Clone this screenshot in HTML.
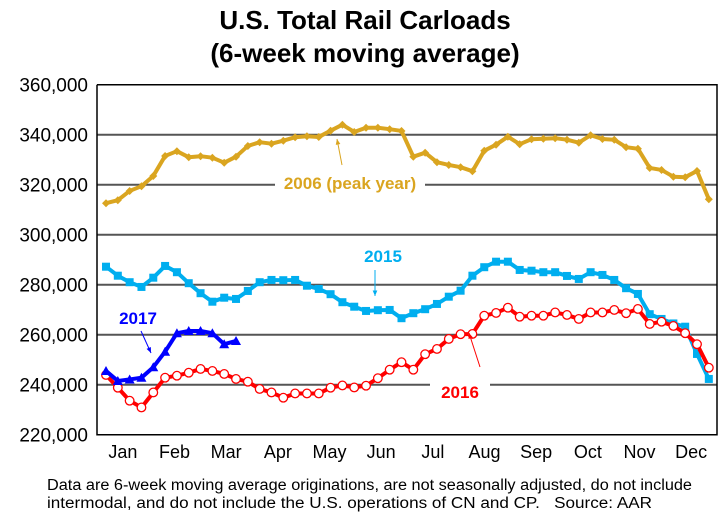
<!DOCTYPE html>
<html><head><meta charset="utf-8">
<style>
body{margin:0;background:#fff;}
svg{display:block;font-family:"Liberation Sans",Arial,sans-serif;}
</style></head><body>
<svg id="chart" width="725" height="516" viewBox="0 0 725 516">
<text x="365" y="29" text-anchor="middle" font-size="26" font-weight="bold">U.S. Total Rail Carloads</text>
<text x="365" y="62" text-anchor="middle" font-size="26" font-weight="bold">(6-week moving average)</text>
<g id="grid"></g>
<g id="axes"></g>
<g id="series"></g>
<g id="notes"></g>
<text x="47" y="490" font-size="15.5" textLength="645" lengthAdjust="spacingAndGlyphs">Data are 6-week moving average originations, are not seasonally adjusted, do not include</text>
<text x="47" y="508" font-size="15.5" textLength="605" lengthAdjust="spacingAndGlyphs">intermodal, and do not include the U.S. operations of CN and CP.&#160;&#160;&#160;Source: AAR</text>
</svg>
<script>
const months=["Jan","Feb","Mar","Apr","May","Jun","Jul","Aug","Sep","Oct","Nov","Dec"];
const yTicks=[220000,240000,260000,280000,300000,320000,340000,360000];
const s2006=[312.6,313.8,317.5,319.4,323.5,331.5,333.4,331,331.4,330.8,328.8,331.2,335.5,337,336.4,337.6,339,339.4,339.1,341.6,344,341.1,342.8,342.8,342.2,341.5,331.2,332.8,329,327.9,327,325.4,333.6,336,339.2,336.2,338.2,338.4,338.6,338,336.8,339.8,338.3,338,335,334.4,326.7,325.9,323.2,323,325.5,314.2];
const s2015=[287.2,283.6,281,279.1,282.8,287.5,285,280.6,276.6,273.2,274.8,274.3,277.5,281,281.9,281.8,281.9,279.6,278.3,276.2,273,271.2,269.5,269.8,269.9,266.6,268.6,270.2,272.3,275.2,277.6,283.6,287,289.2,289.2,285.9,285.6,285,285,283.5,282.3,285,283.9,281.9,278.6,276.3,268.2,266.3,264.5,263.2,252.3,242.3];
const s2016=[243.9,238.8,233.6,230.9,236.9,242.8,243.6,244.8,246.3,245.5,244.3,242.3,241.2,238.3,236.9,234.8,236.5,236.5,236.5,238.8,239.7,238.9,239.6,242.6,246,249,246,252.2,254.3,258.3,260.2,260.3,267.6,268.7,270.8,267.2,267.6,267.6,268.9,267.9,266.3,268.9,268.9,269.9,268.6,270.3,264.3,265.2,263.5,260.6,256.2,246.8];
const s2017=[245.5,241.5,242.1,242.8,247,253.2,260.6,261.5,261.5,260.6,256.2,257.5];
const NS="http://www.w3.org/2000/svg";
const L=97,R=717,T=84.7,B=434.7;
function yS(v){return T+(360000-v)/140000*(B-T);}
function xS(i){return 106+i*11.82;}
function mk(tag,at,parent){const e=document.createElementNS(NS,tag);for(const k in at)e.setAttribute(k,at[k]);parent.appendChild(e);return e;}
const grid=document.getElementById('grid'),axes=document.getElementById('axes'),ser=document.getElementById('series'),notes=document.getElementById('notes');
yTicks.forEach(v=>{
  const y=yS(v);
  if(v>220000&&v<360000){const g=mk('line',{x1:L,x2:R,y1:y,y2:y,stroke:'#555','stroke-width':2},grid);
  
  }
  const t=mk('text',{x:88,y:y+7,'text-anchor':'end','font-size':19},axes);t.textContent=v.toLocaleString('en-US');
  
  
});
const ax=mk('path',{d:`M${L} ${T} V${B} H${R} V${T} H${L}`,fill:'none',stroke:'#000','stroke-width':1.5},axes);


months.forEach((m,i)=>{
  const x=L+(i+0.5)*(R-L)/12;
  const t=mk('text',{x:x,y:458,'text-anchor':'middle','font-size':18},axes);t.textContent=m;
  
  
});
function draw(data,color,marker,name){
  const g=mk('g',{},ser);
  
  
  const pts=data.map((v,i)=>[xS(i),yS(v*1000)]);
  mk('polyline',{points:pts.map(p=>p.join(',')).join(' '),fill:'none',stroke:color,'stroke-width':4,'stroke-linejoin':'round'},g);
  pts.forEach(([x,y])=>{
    let e;
    if(marker==='diamond')e=mk('path',{d:`M${x} ${y-4}L${x+4} ${y}L${x} ${y+4}L${x-4} ${y}Z`,fill:color},g);
    else if(marker==='square')e=mk('rect',{x:x-4,y:y-4,width:8,height:8,fill:color},g);
    else if(marker==='circle')e=mk('circle',{cx:x,cy:y,r:4.3,fill:'#fff',stroke:color,'stroke-width':1.3},g);
    else e=mk('path',{d:`M${x} ${y-5}L${x+5} ${y+4}L${x-5} ${y+4}Z`,fill:color},g);
    
    
  });
}
draw(s2006,'#DAA520','diamond','series-2006');
draw(s2015,'#00AEEF','square','series-2015');
draw(s2016,'#FF0000','circle','series-2016');
draw(s2017,'#0000FF','triangle','series-2017');
function label(x,y,txt,color,w,name){
  const r=mk('rect',{x:x-w/2,y:y-15,width:w,height:20,fill:'#fff'},notes);
  
  
  const t=mk('text',{x:x,y:y,'text-anchor':'middle','font-size':17,'font-weight':'bold',fill:color},notes);t.textContent=txt;
  
  
}
function arrow(x1,y1,x2,y2,color,name){
  const a=Math.atan2(y2-y1,x2-x1),h=6;
  const g=mk('g',{},notes);
  
  
  mk('line',{x1,y1,x2,y2,stroke:color,'stroke-width':1},g);
  mk('path',{d:`M${x2} ${y2}L${x2-h*Math.cos(a-0.4)} ${y2-h*Math.sin(a-0.4)}L${x2-h*Math.cos(a+0.4)} ${y2-h*Math.sin(a+0.4)}Z`,fill:color},g);
}
label(350,189,'2006 (peak year)','#DAA520',150,'label-2006');
arrow(342,165,337,139,'#DAA520','arrow-2006');
label(383,262,'2015','#00AEEF',50,'label-2015');
arrow(375,270,375,296,'#00AEEF','arrow-2015');
label(138,324,'2017','#0000FF',50,'label-2017');
arrow(141,331,151,353,'#0000FF','arrow-2017');
label(460,398,'2016','#FF0000',60,'label-2016');
arrow(480,367,469,333,'#FF0000','arrow-2016');
</script>
</body></html>
